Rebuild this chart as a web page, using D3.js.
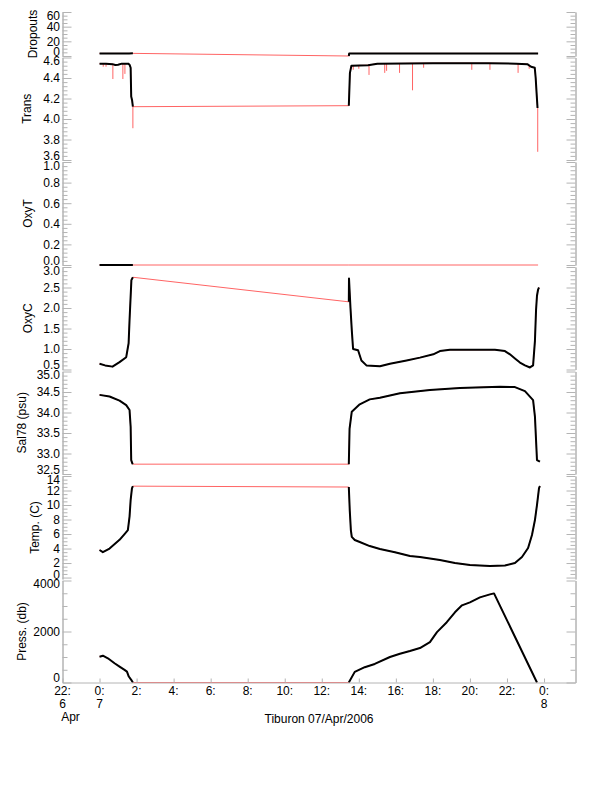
<!DOCTYPE html>
<html><head><meta charset="utf-8">
<script src="https://cdn.jsdelivr.net/npm/d3@7"></script>
<style>
body{margin:0;background:#fff}
text{font-family:"Liberation Sans",Arial,Helvetica,sans-serif;font-size:12px;fill:#000}
</style>
</head><body><svg id="c" width="612" height="785"></svg>
<script>
// ---------------- DATA (hours since 00:00 7 Apr 2006) ----------------
const hourTicks = [-2,0,2,4,6,8,10,12,14,16,18,20,22,24];
const hourLabels = ["22:","0:","2:","4:","6:","8:","10:","12:","14:","16:","18:","20:","22:","0:"];
const dayTicks = [-2,0,24];
const dayLabels = ["6","7","8"];
const monthLabel = "Apr";
const xTitle = "Tiburon 07/Apr/2006";

const dropTicks = [0,20,40,60];
const transTicks = [3.6,3.8,4.0,4.2,4.4,4.6];
const oxyTTicks = [0.0,0.2,0.4,0.6,0.8,1.0];
const oxyCTicks = [0.5,1.0,1.5,2.0,2.5,3.0];
const salTicks = [32.5,33.0,33.5,34.0,34.5,35.0];
const tempTicks = [0,2,4,6,8,10,12,14];
const pressTicks = [0,2000,4000];

const dropTime  = [0,0.4,0.8,1.2,1.6,1.80,13.46,13.48,15.0,17.0,19.0,21.0,23.0,23.68];
const dropValue = [3.5,3.5,3.5,3.5,3.5,3.6,0,3.5,3.5,3.5,3.5,3.5,3.5,3.5];

const transTime  = [0,0.35,0.7,0.85,1.0,1.2,1.55,1.62,1.68,1.71,1.76,1.80,13.46,13.52,13.6,14.5,15.0,18.0,21.0,22.5,23.1,23.3,23.5,23.55,23.6,23.65];
const transValue = [4.54,4.54,4.535,4.527,4.53,4.54,4.54,4.53,4.5,4.22,4.18,4.12,4.13,4.45,4.52,4.525,4.54,4.545,4.545,4.54,4.535,4.51,4.5,4.4,4.25,4.107];
const transSpikeTime  = [0.2,0.35,0.72,1.26,1.37,1.80,13.7,14.0,14.55,15.4,15.5,16.2,16.9,17.5,20.1,21.08,22.6,23.2,23.66];
const transSpikeValue = [4.51,4.51,4.39,4.39,4.44,3.91,4.48,4.49,4.43,4.45,4.47,4.45,4.28,4.5,4.48,4.48,4.45,4.49,3.68];

const oxyTTime  = [0,1.80,13.46,23.68];
const oxyTValue = [0,0,0,0];

const oxyCTime  = [0,0.3,0.7,1.08,1.44,1.57,1.62,1.72,1.80,13.46,13.47,13.55,13.62,13.69,13.96,14.14,14.41,15.14,15.68,16.58,17.30,18.02,18.38,18.92,20.0,21.35,21.89,22.16,22.43,22.70,22.97,23.24,23.41,23.51,23.57,23.62,23.68,23.73];
const oxyCValue = [0.64,0.6,0.57,0.68,0.8,1.14,1.7,2.68,2.75,2.15,2.72,2.0,1.46,1.0,0.97,0.72,0.6,0.58,0.64,0.72,0.79,0.87,0.95,0.98,0.98,0.98,0.95,0.87,0.77,0.67,0.6,0.55,0.6,1.2,1.95,2.3,2.45,2.5];

const salTime  = [0,0.54,1.08,1.44,1.62,1.68,1.71,1.77,1.80,13.46,13.5,13.62,14.05,14.59,15.14,16.22,17.84,19.46,21.62,22.43,22.97,23.41,23.51,23.62,23.78];
const salValue = [34.43,34.39,34.29,34.18,34.06,33.65,32.84,32.76,32.74,32.74,33.6,34.02,34.2,34.32,34.36,34.47,34.55,34.6,34.63,34.62,34.52,34.3,33.9,32.84,32.8];

const tempTime  = [0,0.18,0.54,1.08,1.35,1.53,1.62,1.68,1.75,1.80,13.46,13.51,13.57,13.62,13.78,14.05,14.59,15.14,15.95,16.76,17.30,18.38,19.19,20.0,21.08,21.89,22.43,22.81,23.14,23.35,23.51,23.62,23.73,23.78];
const tempValue = [3.8,3.5,4.0,5.2,6.0,6.55,8.4,10.7,12.3,12.6,12.48,9.3,6.55,5.6,5.17,4.9,4.34,3.93,3.5,2.97,2.83,2.41,2.0,1.72,1.59,1.66,2.0,2.83,4.07,5.86,7.93,10.0,12.34,12.62];

const pressTime  = [0,0.18,0.45,0.81,1.08,1.35,1.48,1.58,1.71,1.80,13.46,13.78,14.32,14.86,15.68,16.22,16.76,17.30,17.84,18.22,18.75,19.19,19.57,20.0,20.54,21.08,21.30,23.62];
const pressValue = [1013,1052,950,756,623,495,428,234,105,0,0,417,600,728,1001,1130,1235,1351,1585,1975,2364,2754,3026,3143,3338,3455,3494,0];

// ---------------- LAYOUT ----------------
const gray = "#b4b4b4";
const redCol = "#ff6464";
const x = d3.scaleLinear().domain([-2, 25.7]).range([62.5, 575.5]);

const panels = [
  {title:"Dropouts",    tx:33,   domain:[0,60],     top:12,    bottom:56,    ticks:dropTicks,  minor:5,    fmt:d3.format("d"),   t:dropTime,  v:dropValue},
  {title:"Trans",       tx:27,   domain:[3.6,4.6],  top:57.5,  bottom:160,   ticks:transTicks, minor:0.04, fmt:d3.format(".1f"), t:transTime, v:transValue, spikes:[transSpikeTime,transSpikeValue]},
  {title:"OxyT",        tx:28,   domain:[0,1],      top:162,   bottom:265,   ticks:oxyTTicks,  minor:0.04, fmt:d3.format(".1f"), t:oxyTTime,  v:oxyTValue},
  {title:"OxyC",        tx:28,   domain:[0.5,3.0],  top:267,   bottom:369.5, ticks:oxyCTicks,  minor:0.1,  fmt:d3.format(".1f"), t:oxyCTime,  v:oxyCValue},
  {title:"Sal78 (psu)", tx:21.5, domain:[32.5,35],  top:371.5, bottom:474,   ticks:salTicks,   minor:0.1,  fmt:d3.format(".1f"), t:salTime,   v:salValue},
  {title:"Temp. (C)",   tx:34.5, domain:[-0.2,14],  top:476,   bottom:579,   ticks:tempTicks,  minor:0.5,  fmt:d3.format("d"),   t:tempTime,  v:tempValue},
  {title:"Press. (db)", tx:21.5, domain:[0,4000],   top:580.5, bottom:682.5, ticks:pressTicks, minor:500,  fmt:d3.format("d"),   t:pressTime, v:pressValue}
];

const svg = d3.select("#c");

function styleAxis(g){
  g.selectAll("path.domain").attr("stroke", gray).attr("stroke-width",1);
  g.selectAll(".tick line").attr("stroke", gray).attr("stroke-width",1);
  g.selectAll(".tick text").remove();
}

panels.forEach(p => {
  const y = d3.scaleLinear().domain(p.domain).range([p.bottom, p.top]);
  const lo = Math.ceil(p.domain[0]/p.minor - 1e-6), hi = Math.floor(p.domain[1]/p.minor + 1e-6);
  const minors = d3.range(lo, hi+1).map(k => +(k*p.minor).toFixed(6))
      .filter(v => !p.ticks.some(t => Math.abs(t-v) < 1e-6));

  const gl = svg.append("g").attr("transform", `translate(${x.range()[0]},0)`);
  gl.append("g").call(d3.axisRight(y).tickValues(p.ticks).tickSize(9).tickSizeOuter(0).tickFormat("")).call(styleAxis);
  gl.append("g").call(d3.axisRight(y).tickValues(minors).tickSize(5).tickSizeOuter(0).tickFormat("")).call(styleAxis);
  const gr = svg.append("g").attr("transform", `translate(${x.range()[1]},0)`);
  gr.append("g").call(d3.axisLeft(y).tickValues(p.ticks).tickSize(9).tickSizeOuter(0).tickFormat("")).call(styleAxis);
  gr.append("g").call(d3.axisLeft(y).tickValues(minors).tickSize(5).tickSizeOuter(0).tickFormat("")).call(styleAxis);

  p.ticks.forEach(t => {
    const yy = Math.max(p.top + 3.3, Math.min(p.bottom - 4.8, y(t)));
    svg.append("text").attr("x", 60).attr("y", yy).attr("dy","0.36em")
      .attr("text-anchor","end").text(p.fmt(t));
  });

  const cy = (p.top + p.bottom)/2;
  svg.append("text").attr("transform", `translate(${p.tx},${cy}) rotate(-90)`)
    .attr("text-anchor","middle").attr("dy","0.36em").text(p.title);

  const pts = p.t.map((t,i) => [t, p.v[i]]);
  const line = d3.line().x(d => x(d[0])).y(d => y(d[1]));
  svg.append("path").attr("d", line(pts)).attr("fill","none")
    .attr("stroke", redCol).attr("stroke-width", 1);
  if (p.spikes) {
    const [st, sv] = p.spikes;
    const base = t => {
      const i = Math.max(1, Math.min(p.t.length-1, d3.bisectLeft(p.t, t)));
      const t0 = p.t[i-1], t1 = p.t[i];
      const f = Math.max(0, Math.min(1, (t - t0)/(t1 - t0)));
      return p.v[i-1] + f*(p.v[i]-p.v[i-1]);
    };
    st.forEach((t,i) => {
      svg.append("line").attr("x1", x(t)).attr("x2", x(t))
        .attr("y1", y(base(t))).attr("y2", y(sv[i]))
        .attr("stroke", redCol).attr("stroke-width", 1);
    });
  }
  const segs = [];
  let cur = [];
  pts.forEach((d,i) => {
    if (i > 0 && d[0] - pts[i-1][0] > 5) { segs.push(cur); cur = []; }
    cur.push(d);
  });
  segs.push(cur);
  segs.forEach(s => {
    svg.append("path").attr("d", line(s)).attr("fill","none")
      .attr("stroke","#000").attr("stroke-width",2).attr("stroke-linejoin","round");
  });
});

const yb = panels[panels.length-1].bottom;
const gb = svg.append("g").attr("transform", `translate(0,${yb})`);
gb.call(d3.axisTop(x).tickValues(hourTicks).tickSize(4).tickSizeOuter(0).tickFormat("")).call(styleAxis);

hourTicks.forEach((h,i) => {
  svg.append("text").attr("x", x(h)).attr("y", yb + 12.5).attr("text-anchor","middle").text(hourLabels[i]);
});
dayTicks.forEach((h,i) => {
  svg.append("text").attr("x", x(h)).attr("y", yb + 25.5).attr("text-anchor","middle").text(dayLabels[i]);
});
svg.append("text").attr("x", x(-2) + 8).attr("y", yb + 38).attr("text-anchor","middle").text(monthLabel);
svg.append("text").attr("x", (x.range()[0]+x.range()[1])/2).attr("y", yb + 40.5)
  .attr("text-anchor","middle").text(xTitle);
</script>
</body></html>
